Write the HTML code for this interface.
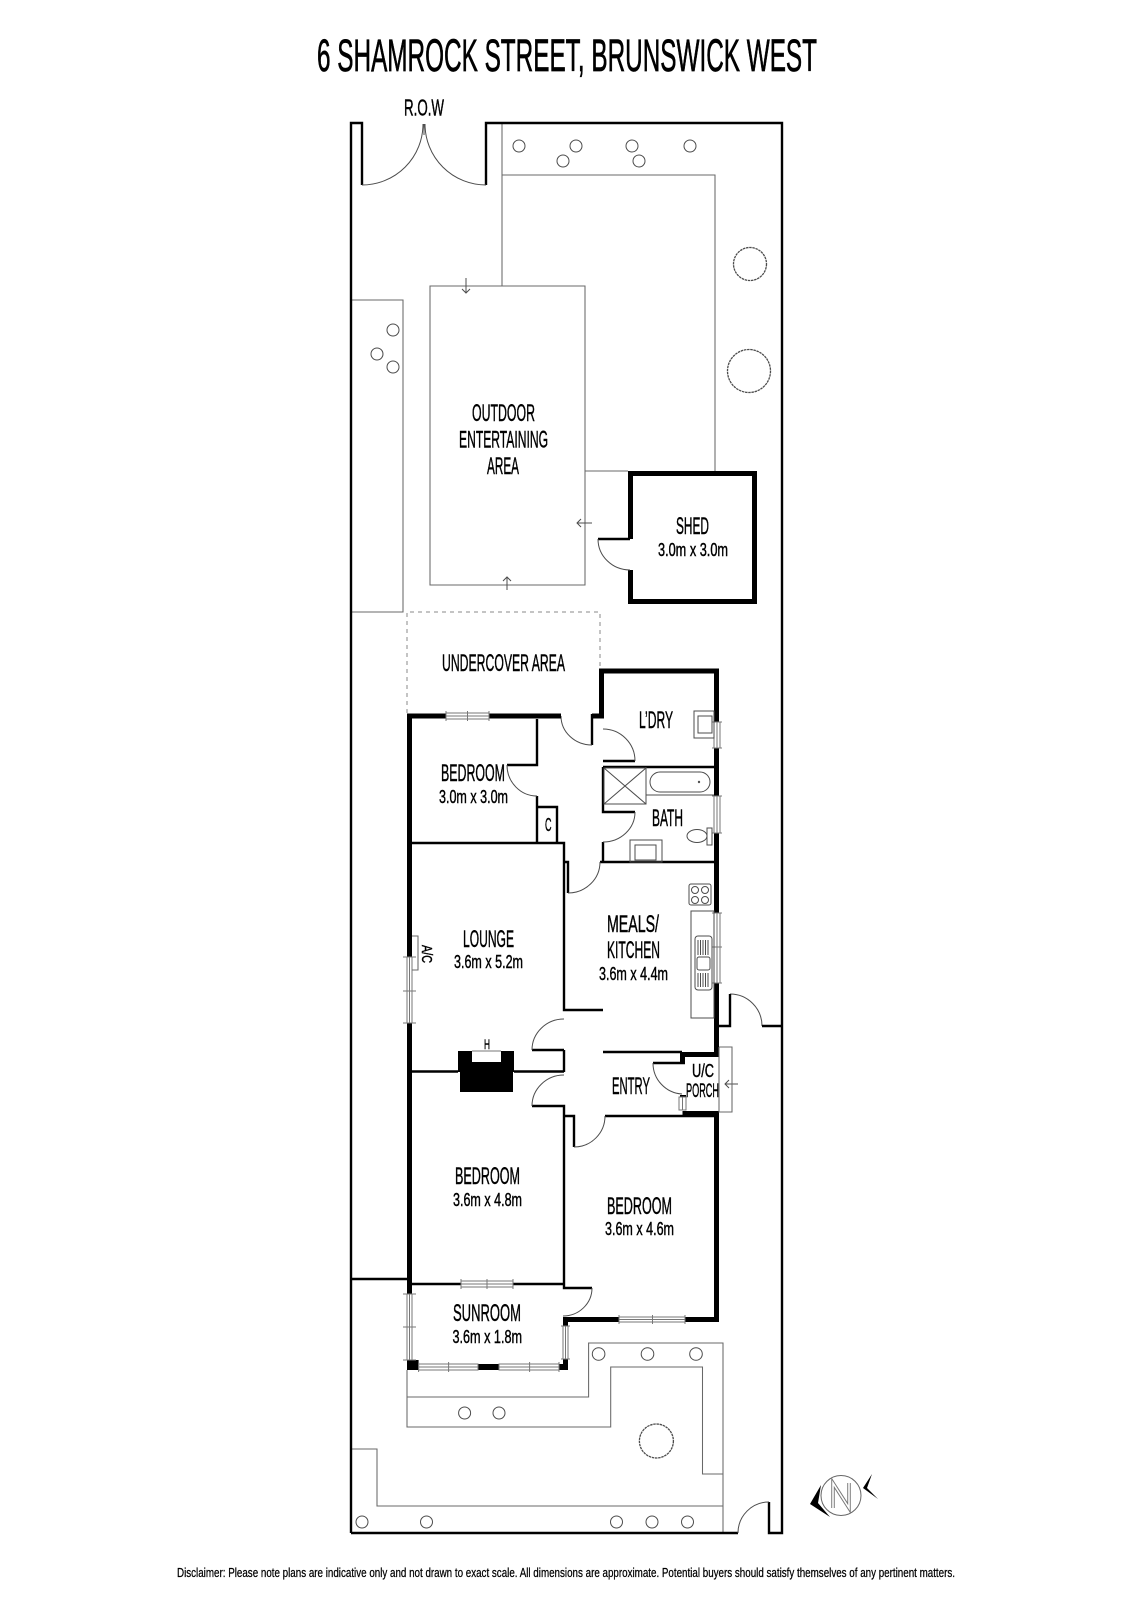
<!DOCTYPE html>
<html><head><meta charset="utf-8"><style>
html,body{margin:0;padding:0;background:#fff}
svg{display:block}
text{font-family:"Liberation Sans",sans-serif;fill:#000;stroke:#000;stroke-width:.45}
.g{fill:none;stroke:#686868;stroke-width:1.05}
.a{fill:none;stroke:#4c4c4c;stroke-width:1}
.k{fill:none;stroke:#000;stroke-width:2.4}
.t{fill:none;stroke:#000;stroke-width:5}
.w{fill:#fff;stroke:#777;stroke-width:1}
.l{stroke:#777;stroke-width:1;fill:none}
</style></head><body>
<svg width="1131" height="1600" viewBox="0 0 1131 1600" xmlns="http://www.w3.org/2000/svg">
<rect width="1131" height="1600" fill="#fff"/>
<!-- garden lines -->
<path class="g" d="M502 123V286M502 175H715V471M585 471H628M430 286H585V585H430ZM351 300H403V612H351M407 1370V1397H588.6V1343H723V1533M407 1397V1427H610.7V1367H702.5V1474H723M351 1449H377V1506H723"/>
<path d="M407 713V612H600V668" fill="none" stroke="#888" stroke-width="1" stroke-dasharray="4 4"/>
<!-- circles -->
<g class="a">
<circle cx="519" cy="146" r="6"/><circle cx="576" cy="146" r="6"/><circle cx="632" cy="146" r="6"/><circle cx="690" cy="146" r="6"/><circle cx="563" cy="161" r="6"/><circle cx="639" cy="161" r="6"/>
<circle cx="393" cy="330" r="6"/><circle cx="377" cy="354" r="6"/><circle cx="393" cy="367" r="6"/>
<circle cx="598.6" cy="1354" r="6.3"/><circle cx="647.5" cy="1354" r="6.3"/><circle cx="696" cy="1354" r="6.3"/>
<circle cx="464.6" cy="1413" r="6"/><circle cx="499" cy="1413" r="6"/>
<circle cx="362" cy="1522" r="6"/><circle cx="426.5" cy="1522" r="6"/><circle cx="616.5" cy="1522" r="6"/><circle cx="652" cy="1522" r="6"/><circle cx="687.5" cy="1522" r="6"/>
<circle cx="750" cy="264" r="16.5" stroke-width="1.3" stroke-dasharray="2.5 .7"/><circle cx="749" cy="371" r="21.5" stroke-width="1.3" stroke-dasharray="2.5 .7"/><circle cx="656.4" cy="1441" r="17" stroke-width="1.3" stroke-dasharray="2.5 .7"/>
</g>
<!-- outer boundary -->
<path class="k" d="M351 1533V123H362V185M486 185V123H782V1533H769V1502M738 1533H351M351 1279H407"/>
<path class="a" d="M362 185A61 61 0 0 0 423 124M486 185A61 61 0 0 1 425 124M424 124V135M738 1533A31 31 0 0 1 769 1502"/>
<!-- arrows -->
<path class="a" d="M466 278V293M462 289L466 293L470 289M577 523H592M581 519L577 523L581 527M507 590V577M503 581L507 577L511 581M725 1084H738M729 1080L725 1084L729 1088"/>
<!-- shed -->
<path class="t" d="M630.500 539V473.500H754.500V601.500H630.500V570"/>
<path class="k" d="M598 539H630"/>
<path class="a" d="M598 539A32 31 0 0 0 630 570"/>
<!-- house thin walls -->
<path class="k" d="M537 719V765H507M537 796V843M537 807H557V843M412 843H564V1010H603M564 1050H532M564 1050V1072M412 1071.500H458M514 1071.500H564M532 1106H564V1288H592M564 1116H574V1147M605 1116H715M564 843V862H568V893M600 862H715M603 767V812H635M603 842V862M603 761H635M603 767H715M603 1052H682M653 1063H685M592 714V745M412 1284H461M513 1284H564"/>
<path class="a" d="M507 765A30 31 0 0 0 537 796M592 745A31 29 0 0 1 561 716M635 761A32 32 0 0 0 603 729M635 812A32 30 0 0 1 603 842M568 893A32 31 0 0 0 600 862M564 1019A32 31 0 0 0 532 1050M564 1075A32 31 0 0 0 532 1106M574 1147A31 31 0 0 0 605 1116M653 1063A31 31 0 0 0 682 1094M730 994A32 32 0 0 1 762 1026M592 1288A29 28 0 0 1 563 1316"/>
<path class="k" d="M730 994V1026H718M762 1026H782"/>
<!-- thick walls -->
<path class="t" d="M409.500 957V716H446M489 716H561M601.500 718V671H716.500V722M716.500 748V796M716.500 833V913M716.500 982V1054.500H682.500V1064M716.500 1113.500H682.500M716.500 1111V1319.500H685M619 1319.500H565.500V1326M592 716H604M409.500 1023V1279"/>
<path class="t" d="M409.500 1279V1294"/>
<path d="M407 1360H418.600V1370H407ZM478 1364H499V1370H478ZM559 1364H563V1359H568V1370H559ZM680 1095H686V1097H680ZM458 1051H472V1062H501V1051H514V1072H513V1092H460V1072H458Z" fill="#000"/>
<path class="l" d="M472 1051H501"/>
<!-- windows -->
<g class="w">
<rect x="446" y="713" width="43" height="6"/><rect x="714" y="722" width="6" height="26"/><rect x="714" y="796" width="6" height="37"/><rect x="714" y="913" width="6" height="70"/><rect x="407" y="957" width="5" height="66"/><rect x="679" y="1097" width="7" height="13"/><rect x="461" y="1281" width="52" height="6"/><rect x="407" y="1294" width="5" height="66"/><rect x="418.600" y="1364" width="59.400" height="6"/><rect x="499" y="1364" width="60" height="6"/><rect x="563" y="1326" width="5" height="33"/><rect x="619" y="1317" width="66" height="5"/>
</g>
<path class="l" d="M446 716H489M446 711V721M467.500 711V721M489 711V721M717 722V748M712 722H722M712 748H722M717 796V833M712 796H722M712 833H722M717 913V983M712 913H722M712 947H722M712 983H722M409.500 957V1023M403 957H416M403 991H416M403 1023H416M682.500 1097V1110M461 1284H513M461 1279V1289M487 1279V1289M513 1279V1289M409.500 1294V1360M403 1294H416M403 1327H416M403 1360H416M418.600 1367H478M448.600 1362V1372M499 1367H559M529.600 1362V1372M418.600 1362V1372M559 1362V1372M565.500 1326V1359M561 1326H570M561 1359H570M619 1319.500H685M619 1315V1324M652.500 1315V1324M685 1315V1324"/>
<!-- porch & A/C -->
<path class="g" d="M719 1047H732V1112H719V1047M412 936H418V970H412"/>
<!-- fixtures -->
<g class="a">
<rect x="694" y="711" width="20" height="27"/><rect x="698" y="716" width="14" height="17"/>
<rect x="604" y="768" width="42" height="36"/><path d="M604 768L646 804M646 768L604 804M646 795H714M646 767V804"/>
<rect x="650" y="772" width="60" height="20" rx="10"/><circle cx="699" cy="782" r="0.700"/>
<rect x="630" y="840" width="32" height="22"/><rect x="635" y="845" width="21" height="15"/>
<ellipse cx="697" cy="836" rx="10" ry="6.500"/><rect x="707" y="828" width="5" height="17"/>
<rect x="689" y="884" width="22" height="21" rx="2"/><circle cx="695" cy="890" r="3.500"/><circle cx="705" cy="890" r="3.500"/><circle cx="695" cy="900" r="3.500"/><circle cx="705" cy="900" r="3.500"/>
<rect x="691" y="911" width="23" height="107"/>
<rect x="695" y="936" width="17" height="54" rx="3"/><rect x="697" y="957" width="13" height="13" rx="2"/>
<path d="M698 940V955M700.500 940V955M703 940V955M705.500 940V955M708 940V955M698 973V987M700.500 973V987M703 973V987M705.500 973V987M708 973V987"/>
</g>
<!-- compass -->
<circle cx="841" cy="1495.500" r="20" fill="#fff" stroke="#666" stroke-width="1"/>
<path d="M833 1508V1483L849 1508V1483" fill="none" stroke="#777" stroke-width="3.500"/>
<path d="M833 1508V1483L849 1508V1483" fill="none" stroke="#fff" stroke-width="1.600"/>
<path d="M821 1485L810 1504L830 1517L818 1503Z" fill="#000"/>
<path d="M872 1474L863 1488L878 1499L867 1488Z" fill="#000"/>
<!-- labels -->
<text x="317" y="71" font-size="45" textLength="500" lengthAdjust="spacingAndGlyphs" style="stroke-width:.7">6 SHAMROCK STREET, BRUNSWICK WEST</text>
<text x="404" y="115.500" font-size="23" textLength="40" lengthAdjust="spacingAndGlyphs">R.O.W</text>
<text x="472" y="421" font-size="24" textLength="63" lengthAdjust="spacingAndGlyphs">OUTDOOR</text>
<text x="459" y="447.500" font-size="24" textLength="89" lengthAdjust="spacingAndGlyphs">ENTERTAINING</text>
<text x="487" y="474" font-size="24" textLength="32" lengthAdjust="spacingAndGlyphs">AREA</text>
<text x="676" y="534" font-size="24" textLength="33" lengthAdjust="spacingAndGlyphs">SHED</text>
<text x="658" y="556" font-size="18.500" textLength="70" lengthAdjust="spacingAndGlyphs">3.0m x 3.0m</text>
<text x="442" y="671" font-size="24" textLength="123" lengthAdjust="spacingAndGlyphs">UNDERCOVER AREA</text>
<text x="639" y="728" font-size="24" textLength="34" lengthAdjust="spacingAndGlyphs">L’DRY</text>
<text x="441" y="781" font-size="24" textLength="64" lengthAdjust="spacingAndGlyphs">BEDROOM</text>
<text x="439" y="803" font-size="18.500" textLength="69" lengthAdjust="spacingAndGlyphs">3.0m x 3.0m</text>
<text x="545" y="831" font-size="18" textLength="6.500" lengthAdjust="spacingAndGlyphs">C</text>
<text x="652" y="826" font-size="24" textLength="31" lengthAdjust="spacingAndGlyphs">BATH</text>
<text x="463" y="947" font-size="24" textLength="51" lengthAdjust="spacingAndGlyphs">LOUNGE</text>
<text x="454" y="968" font-size="18.500" textLength="69" lengthAdjust="spacingAndGlyphs">3.6m x 5.2m</text>
<text x="607" y="932" font-size="24" textLength="52" lengthAdjust="spacingAndGlyphs">MEALS/</text>
<text x="607" y="958" font-size="24" textLength="53" lengthAdjust="spacingAndGlyphs">KITCHEN</text>
<text x="599" y="980" font-size="18.500" textLength="69" lengthAdjust="spacingAndGlyphs">3.6m x 4.4m</text>
<text x="612" y="1094" font-size="24" textLength="38" lengthAdjust="spacingAndGlyphs">ENTRY</text>
<text x="692" y="1077" font-size="18" textLength="22" lengthAdjust="spacingAndGlyphs">U/C</text>
<text x="686" y="1097" font-size="19" textLength="33" lengthAdjust="spacingAndGlyphs">PORCH</text>
<text x="484" y="1049" font-size="14" textLength="6" lengthAdjust="spacingAndGlyphs">H</text>
<text x="455" y="1184" font-size="24" textLength="65" lengthAdjust="spacingAndGlyphs">BEDROOM</text>
<text x="453" y="1206" font-size="18.500" textLength="69" lengthAdjust="spacingAndGlyphs">3.6m x 4.8m</text>
<text x="607" y="1214" font-size="24" textLength="65" lengthAdjust="spacingAndGlyphs">BEDROOM</text>
<text x="605" y="1235" font-size="18.500" textLength="69" lengthAdjust="spacingAndGlyphs">3.6m x 4.6m</text>
<text x="453" y="1321" font-size="24" textLength="68" lengthAdjust="spacingAndGlyphs">SUNROOM</text>
<text x="452.500" y="1343" font-size="18.500" textLength="69.500" lengthAdjust="spacingAndGlyphs">3.6m x 1.8m</text>
<text transform="translate(422 945) rotate(90)" x="0" y="0" font-size="15" textLength="18" lengthAdjust="spacingAndGlyphs">A/C</text>
<text x="177" y="1577" font-size="13" textLength="778" lengthAdjust="spacingAndGlyphs" style="stroke-width:.25">Disclaimer: Please note plans are indicative only and not drawn to exact scale. All dimensions are approximate. Potential buyers should satisfy themselves of any pertinent matters.</text>
</svg>
</body></html>
